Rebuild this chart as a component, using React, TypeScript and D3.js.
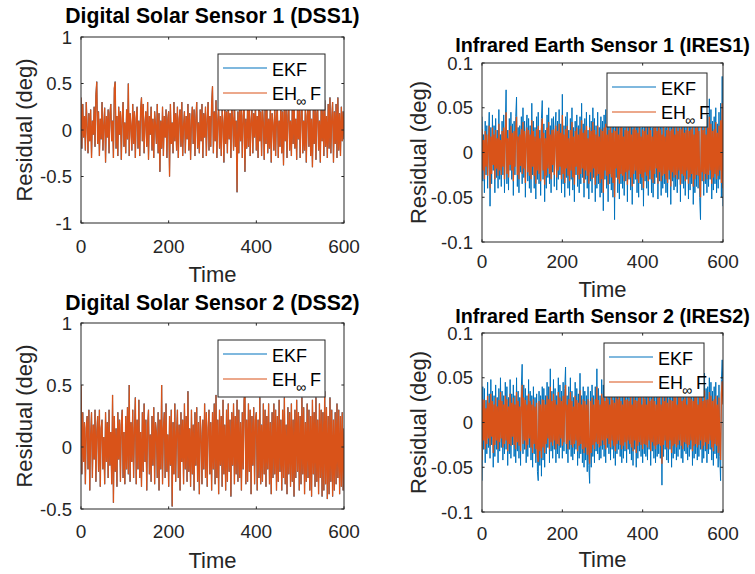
import React from "react";
import * as d3 from "d3";

// ---------- data ----------
const xTicks = [0, 200, 400, 600];
const dssYTicks1 = [-1, -0.5, 0, 0.5, 1];
const dssYTicks2 = [-0.5, 0, 0.5, 1];
const iresYTicks = [-0.1, -0.05, 0, 0.05, 0.1];
const seriesNames = ["EKF", "EH∞F"];

// sample times (every 2 s, 0..600)
const time = d3.range(0, 601, 2);

const dss1EHF = [
  0.35, -0.20, 0.28, -0.08, 0.15, -0.22, 0.30, 0.05, -0.25, 0.18,
  -0.12, 0.22, -0.30, 0.10, -0.05, 0.25, -0.18, 0.38, 0.52, -0.15,
  0.20, -0.28, 0.12, -0.10, 0.30, -0.22, 0.05, 0.24, -0.35, 0.15,
  -0.08, 0.22, -0.25, 0.18, 0.28, -0.12, 0.10, -0.30, 0.45, 0.52,
  -0.20, 0.15, -0.28, 0.25, -0.05, 0.20, -0.32, 0.12, 0.30, -0.18,
  0.08, -0.25, 0.22, -0.10, 0.50, -0.28, 0.18, 0.05, -0.22, 0.28,
  -0.15, 0.20, -0.30, 0.12, 0.25, -0.20, 0.10, -0.28, 0.22, 0.35,
  -0.12, 0.28, -0.25, 0.08, 0.20, -0.18, 0.30, -0.32, 0.15, -0.05,
  0.25, -0.22, 0.12, -0.30, 0.20, 0.05, -0.15, 0.28, -0.25, 0.18,
  -0.45, 0.10, -0.20, 0.25, -0.28, 0.15, -0.08, 0.22, -0.30, 0.12,
  0.20, -0.50, 0.28, -0.15, 0.08, -0.25, 0.30, -0.12, 0.18, -0.22,
  0.25, -0.30, 0.12, 0.22, -0.18, 0.30, -0.28, 0.05, 0.20, -0.25,
  0.15, -0.10, 0.28, -0.22, 0.18, -0.32, 0.10, 0.25, -0.15, 0.22,
  -0.28, 0.12, 0.30, -0.20, 0.08, -0.25, 0.22, -0.12, 0.28, -0.30,
  0.18, -0.08, 0.25, -0.28, 0.12, 0.30, -0.22, 0.15, -0.18, 0.28,
  0.47, -0.25, 0.20, -0.12, 0.32, -0.30, 0.10, 0.25, -0.20, 0.15,
  -0.28, 0.22, 0.08, -0.35, 0.28, -0.15, 0.20, -0.25, 0.30, -0.10,
  0.18, -0.30, 0.25, 0.12, -0.22, 0.35, -0.18, 0.10, -0.67, 0.20,
  -0.25, 0.28, -0.12, 0.22, -0.30, 0.15, 0.30, -0.45, 0.12, -0.20,
  0.25, -0.18, 0.32, -0.28, 0.10, 0.22, -0.25, 0.18, -0.08, 0.28,
  -0.22, 0.15, -0.30, 0.35, -0.12, 0.20, -0.28, 0.25, 0.08, -0.32,
  0.22, -0.15, 0.30, -0.25, 0.12, -0.20, 0.28, -0.35, 0.18, 0.05,
  -0.22, 0.30, -0.28, 0.15, 0.25, -0.30, 0.10, -0.18, 0.32, -0.25,
  0.20, -0.38, 0.28, -0.12, 0.22, -0.30, 0.15, 0.30, -0.22, 0.10,
  -0.28, 0.25, -0.15, 0.35, -0.20, 0.12, -0.32, 0.28, -0.10, 0.22,
  -0.30, 0.18, 0.35, -0.25, 0.10, -0.22, 0.30, -0.35, 0.15, 0.25,
  -0.18, 0.30, -0.28, 0.12, -0.40, 0.22, -0.15, 0.28, -0.32, 0.18,
  0.25, -0.22, 0.10, -0.35, 0.30, -0.12, 0.22, -0.28, 0.32, -0.18,
  0.15, -0.30, 0.28, -0.20, 0.35, -0.25, 0.12, 0.30, -0.35, 0.20,
  -0.15, 0.28, -0.30, 0.35, -0.22, 0.18, -0.28, 0.25, -0.12, 0.20,
  -0.10,
];
// at this scale the EKF curve is hidden under the EH∞F curve
const dss1EKF = dss1EHF;

const dss2EHF = [
  0.50, -0.22, 0.28, -0.12, 0.20, -0.30, 0.15, 0.25, -0.18, 0.30,
  -0.35, 0.10, 0.28, -0.25, 0.18, -0.10, 0.30, -0.28, 0.12, 0.25,
  -0.20, 0.30, -0.32, 0.15, 0.22, -0.18, 0.08, -0.30, 0.28, -0.12,
  0.20, -0.25, 0.30, -0.15, 0.12, -0.30, 0.42, -0.45, 0.25, -0.20,
  0.15, -0.32, 0.28, -0.10, 0.22, -0.28, 0.18, 0.30, -0.25, 0.12,
  -0.30, 0.25, -0.18, 0.32, -0.22, 0.50, -0.28, 0.20, -0.12, 0.30,
  -0.25, 0.15, 0.40, -0.30, 0.22, -0.18, 0.38, -0.25, 0.12, -0.32,
  0.28, -0.20, 0.35, -0.12, 0.22, -0.35, 0.18, 0.30, -0.22, 0.10,
  -0.28, 0.25, -0.15, 0.32, -0.30, 0.20, 0.12, -0.25, 0.28, -0.35,
  0.22, -0.18, 0.50, -0.30, 0.15, 0.28, -0.25, 0.35, -0.20, 0.10,
  -0.32, 0.25, -0.15, 0.30, -0.48, 0.20, -0.22, 0.35, -0.28, 0.12,
  0.30, -0.25, 0.18, -0.35, 0.28, -0.12, 0.22, -0.30, 0.35, -0.18,
  0.25, -0.28, 0.45, -0.20, 0.15, -0.32, 0.30, -0.22, 0.18, -0.35,
  0.28, -0.15, 0.32, -0.28, 0.20, -0.38, 0.25, 0.10, -0.30, 0.22,
  -0.18, 0.35, -0.25, 0.28, -0.32, 0.15, 0.30, -0.22, 0.20, -0.35,
  0.28, -0.18, 0.35, -0.30, 0.42, -0.25, 0.22, -0.38, 0.30, -0.15,
  0.25, -0.32, 0.38, -0.22, 0.18, -0.35, 0.30, -0.28, 0.35, -0.20,
  0.22, -0.40, 0.28, -0.15, 0.35, -0.30, 0.25, -0.22, 0.38, -0.28,
  0.30, -0.25, 0.20, -0.35, 0.28, -0.18, 0.38, 0.45, -0.30, 0.22,
  -0.28, 0.35, -0.20, 0.30, -0.38, 0.25, -0.15, 0.32, -0.30, 0.22,
  0.28, -0.35, 0.22, -0.25, 0.40, -0.30, 0.18, -0.28, 0.35, -0.22,
  0.30, -0.32, 0.25, -0.18, 0.35, -0.30, 0.20, -0.38, 0.28, -0.25,
  0.35, -0.22, 0.30, -0.35, 0.25, -0.28, 0.38, -0.20, 0.22, -0.35,
  0.30, -0.25, 0.40, -0.30, 0.18, -0.38, 0.32, -0.22, 0.28, -0.32,
  0.35, -0.28, 0.22, -0.40, 0.30, -0.25, 0.38, -0.20, 0.28, -0.35,
  0.25, -0.30, 0.40, -0.22, 0.32, -0.38, 0.20, -0.28, 0.35, -0.25,
  0.30, -0.35, 0.25, -0.40, 0.38, -0.22, 0.28, -0.32, 0.40, -0.28,
  0.22, -0.38, 0.35, -0.25, 0.30, -0.40, 0.28, -0.35, 0.45, -0.30,
  0.32, -0.42, 0.25, -0.38, 0.40, -0.28, 0.30, -0.40, 0.22, -0.35,
  0.28, -0.30, 0.35, -0.25, 0.30, -0.38, 0.25, -0.32, 0.28, -0.35,
  0.15,
];
const dss2EKF = dss2EHF;

const ires1EKF = [
  0.040, -0.032, 0.020, -0.045, 0.035, -0.025, 0.030, -0.040, 0.015, 0.045,
  -0.060, 0.028, -0.035, 0.042, -0.020, 0.030, -0.045, 0.038, -0.028, 0.025,
  -0.040, 0.048, -0.030, 0.020, -0.038, 0.035, -0.025, 0.042, -0.045, 0.030,
  0.070, -0.035, 0.025, -0.042, 0.038, -0.020, 0.045, -0.030, 0.032, -0.048,
  0.035, -0.025, 0.040, 0.062, -0.038, 0.028, -0.045, 0.030, -0.022, 0.040,
  -0.035, 0.050, -0.028, 0.035, -0.050, 0.025, 0.042, -0.032, 0.038, -0.040,
  0.030, -0.045, 0.055, -0.025, 0.035, -0.040, 0.028, -0.052, 0.040, -0.030,
  0.045, -0.035, 0.025, -0.048, 0.038, 0.058, -0.030, 0.032, -0.055, 0.025,
  -0.040, 0.042, -0.028, 0.050, -0.035, 0.030, -0.045, 0.038, -0.022, 0.040,
  -0.038, 0.028, 0.045, -0.042, 0.035, -0.030, 0.048, -0.025, 0.032, -0.045,
  0.065, -0.035, 0.030, -0.050, 0.040, -0.028, 0.045, -0.040, 0.025, -0.048,
  0.038, -0.030, 0.050, -0.042, 0.028, -0.055, 0.035, -0.025, 0.042, -0.038,
  0.030, -0.045, 0.040, -0.035, 0.055, -0.028, 0.032, -0.050, 0.038, -0.030,
  0.045, -0.040, 0.025, -0.052, 0.042, -0.032, 0.035, -0.045, 0.050, -0.028,
  0.038, -0.055, 0.030, -0.040, 0.045, -0.035, 0.028, -0.050, 0.040, -0.045,
  0.035, -0.065, 0.042, -0.030, 0.048, -0.040, 0.030, -0.055, 0.038, -0.035,
  0.045, -0.042, 0.032, -0.050, 0.040, -0.075, 0.035, -0.028, 0.048, -0.045,
  0.030, -0.052, 0.042, -0.035, 0.055, -0.040, 0.028, -0.048, 0.038, -0.032,
  0.045, -0.055, 0.035, -0.030, 0.050, -0.042, 0.030, -0.058, 0.040, -0.035,
  0.048, -0.030, 0.038, -0.045, 0.032, -0.050, 0.055, -0.035, 0.028, -0.042,
  0.040, -0.060, 0.035, -0.032, 0.045, -0.040, 0.030, -0.048, 0.050, -0.030,
  0.038, -0.045, 0.028, -0.050, 0.042, -0.035, 0.048, -0.028, 0.035, -0.052,
  0.045, -0.032, 0.040, -0.048, 0.030, -0.040, 0.055, -0.035, 0.028, -0.045,
  0.038, -0.050, 0.045, -0.030, 0.035, -0.058, 0.040, -0.032, 0.048, -0.042,
  0.030, -0.038, 0.058, -0.045, 0.035, -0.030, 0.042, -0.055, 0.040, -0.035,
  0.050, -0.040, 0.032, -0.048, 0.038, -0.030, 0.045, -0.052, 0.035, -0.042,
  0.040, -0.035, 0.048, -0.058, 0.030, -0.045, 0.042, -0.038, 0.050, -0.040,
  0.035, -0.050, -0.075, 0.045, -0.032, 0.038, -0.048, 0.055, -0.035, 0.030,
  -0.045, 0.042, -0.038, 0.060, -0.030, 0.048, -0.052, 0.035, -0.042, 0.040,
  -0.035, 0.050, -0.045, 0.032, -0.040, 0.045, -0.030, 0.055, -0.050, 0.085,
  -0.060,
];

const ires1EHF = [
  0.026, -0.020, 0.014, -0.030, 0.024, -0.016, 0.020, -0.026, 0.010, 0.030,
  -0.040, 0.018, -0.024, 0.028, -0.014, 0.020, -0.030, 0.025, -0.018, 0.016,
  -0.026, 0.032, -0.020, 0.014, -0.025, 0.024, -0.016, 0.028, -0.030, 0.020,
  0.045, -0.024, 0.016, -0.028, 0.025, -0.014, 0.030, -0.020, 0.022, -0.032,
  0.024, -0.016, 0.026, 0.040, -0.025, 0.018, -0.030, 0.020, -0.015, 0.026,
  -0.024, 0.034, -0.018, 0.024, -0.034, 0.016, 0.028, -0.022, 0.025, -0.026,
  0.020, -0.030, 0.036, -0.016, 0.024, -0.026, 0.018, -0.035, 0.026, -0.020,
  0.030, -0.024, 0.016, -0.032, 0.025, 0.038, -0.020, 0.022, -0.036, 0.016,
  -0.026, 0.028, -0.018, 0.034, -0.024, 0.020, -0.030, 0.025, -0.014, 0.026,
  -0.025, 0.018, 0.030, -0.028, 0.024, -0.020, 0.032, -0.016, 0.022, -0.030,
  0.042, -0.024, 0.020, -0.034, 0.026, -0.018, 0.030, -0.026, 0.016, -0.032,
  0.025, -0.020, 0.034, -0.028, 0.018, -0.036, 0.024, -0.016, 0.028, -0.025,
  0.020, -0.030, 0.026, -0.024, 0.036, -0.018, 0.022, -0.034, 0.025, -0.020,
  0.030, -0.026, 0.016, -0.035, 0.028, -0.022, 0.024, -0.030, 0.034, -0.018,
  0.025, -0.036, 0.020, -0.026, 0.030, -0.024, 0.018, -0.034, 0.026, -0.030,
  0.024, -0.045, 0.028, -0.020, 0.032, -0.026, 0.020, -0.036, 0.025, -0.024,
  0.030, -0.028, 0.022, -0.034, 0.026, -0.050, 0.024, -0.018, 0.032, -0.030,
  0.020, -0.035, 0.028, -0.024, 0.036, -0.026, 0.018, -0.032, 0.025, -0.022,
  0.030, -0.036, 0.024, -0.020, 0.034, -0.028, 0.020, -0.038, 0.026, -0.024,
  0.032, -0.020, 0.025, -0.030, 0.022, -0.034, 0.036, -0.024, 0.018, -0.028,
  0.026, -0.040, 0.024, -0.022, 0.030, -0.026, 0.020, -0.032, 0.034, -0.020,
  0.025, -0.030, 0.018, -0.034, 0.028, -0.024, 0.032, -0.018, 0.024, -0.035,
  0.030, -0.022, 0.026, -0.032, 0.020, -0.026, 0.036, -0.024, 0.018, -0.030,
  0.025, -0.034, 0.030, -0.020, 0.024, -0.038, 0.026, -0.022, 0.032, -0.028,
  0.020, -0.025, 0.038, -0.030, 0.024, -0.020, 0.028, -0.036, 0.026, -0.024,
  0.034, -0.026, 0.022, -0.032, 0.025, -0.020, 0.030, -0.035, 0.024, -0.028,
  0.026, -0.024, 0.032, -0.038, 0.020, -0.030, 0.028, -0.025, 0.034, -0.026,
  0.024, -0.034, -0.050, 0.030, -0.022, 0.025, -0.032, 0.036, -0.024, 0.020,
  -0.030, 0.028, -0.025, 0.040, -0.020, 0.032, -0.035, 0.024, -0.028, 0.026,
  -0.024, 0.034, -0.030, 0.022, -0.026, 0.030, -0.020, 0.036, -0.034, 0.055,
  -0.040,
];

const ires2EKF = [
  -0.065, 0.040, -0.030, 0.038, -0.045, 0.025, -0.035, 0.045, -0.028, 0.032,
  -0.040, 0.048, -0.025, 0.035, -0.050, 0.030, -0.038, 0.042, -0.030, 0.028,
  -0.045, 0.038, -0.032, 0.050, -0.028, 0.035, -0.042, 0.030, -0.035, 0.045,
  -0.030, 0.040, -0.048, 0.028, -0.035, 0.048, -0.040, 0.032, -0.025, 0.042,
  -0.038, 0.030, -0.045, 0.050, -0.032, 0.035, -0.040, 0.028, -0.048, 0.040,
  0.065, -0.035, 0.042, -0.030, 0.038, -0.045, 0.030, -0.038, 0.048, -0.028,
  0.035, -0.042, 0.030, -0.050, 0.040, -0.035, 0.028, -0.045, 0.032, -0.055,
  -0.065, 0.035, -0.048, 0.030, -0.060, 0.040, -0.042, 0.038, -0.050, 0.030,
  -0.035, 0.045, -0.028, 0.040, -0.045, 0.060, -0.032, 0.035, -0.040, 0.048,
  -0.030, 0.038, -0.045, 0.030, -0.035, 0.050, -0.040, 0.042, -0.028, 0.035,
  -0.040, 0.045, -0.032, 0.038, 0.062, -0.035, 0.030, -0.045, 0.040, -0.030,
  0.050, -0.038, 0.035, -0.042, 0.028, -0.035, 0.045, -0.030, 0.038, -0.048,
  0.032, -0.040, 0.055, -0.035, 0.030, -0.045, 0.040, -0.050, 0.035, -0.042,
  0.030, -0.055, 0.040, -0.048, -0.068, 0.035, -0.050, 0.042, -0.038, 0.030,
  -0.045, 0.040, -0.032, 0.060, -0.035, 0.038, -0.042, 0.030, -0.040, 0.048,
  -0.030, 0.042, -0.038, 0.035, -0.045, 0.050, -0.028, 0.040, -0.035, 0.030,
  -0.042, 0.055, -0.030, 0.038, -0.040, 0.032, -0.048, 0.045, -0.035, 0.040,
  -0.030, 0.048, -0.038, 0.035, -0.045, 0.030, -0.040, 0.050, -0.032, 0.038,
  -0.045, 0.040, -0.030, 0.035, -0.035, 0.058, -0.042, 0.030, -0.048, 0.045,
  -0.030, 0.038, -0.050, 0.035, -0.040, 0.042, -0.032, 0.048, -0.038, 0.030,
  -0.045, 0.048, -0.035, 0.040, -0.038, 0.030, -0.042, 0.052, -0.030, 0.035,
  -0.048, 0.040, -0.032, 0.045, -0.040, 0.035, -0.045, 0.030, -0.038, 0.042,
  -0.035, 0.050, -0.040, 0.030, -0.070, 0.045, -0.038, 0.035, -0.030, 0.048,
  -0.042, 0.032, -0.045, 0.040, -0.030, 0.038, -0.050, 0.035, -0.040, 0.045,
  -0.035, 0.050, -0.042, 0.030, -0.038, 0.045, -0.030, 0.055, -0.040, 0.035,
  -0.045, 0.040, -0.032, 0.048, -0.035, 0.030, -0.042, 0.052, -0.038, 0.045,
  -0.030, 0.040, -0.048, 0.035, -0.040, 0.050, -0.035, 0.045, -0.042, 0.030,
  -0.038, 0.048, -0.030, 0.042, -0.045, 0.035, -0.040, 0.055, -0.032, 0.038,
  -0.045, 0.040, -0.035, 0.050, -0.030, 0.045, -0.042, 0.035, -0.048, 0.040,
  -0.035, 0.045, -0.040, 0.030, -0.050, 0.042, -0.038, -0.065, 0.048, 0.070,
  0.030,
];

const ires2EHF = [
  -0.042, 0.026, -0.020, 0.025, -0.030, 0.016, -0.024, 0.030, -0.018, 0.022,
  -0.026, 0.032, -0.016, 0.024, -0.034, 0.020, -0.025, 0.028, -0.020, 0.018,
  -0.030, 0.025, -0.022, 0.034, -0.018, 0.024, -0.028, 0.020, -0.024, 0.030,
  -0.020, 0.026, -0.032, 0.018, -0.024, 0.032, -0.026, 0.022, -0.016, 0.028,
  -0.025, 0.020, -0.030, 0.034, -0.022, 0.024, -0.026, 0.018, -0.032, 0.026,
  0.042, -0.024, 0.028, -0.020, 0.025, -0.030, 0.020, -0.025, 0.032, -0.018,
  0.024, -0.028, 0.020, -0.034, 0.026, -0.024, 0.018, -0.030, 0.022, -0.038,
  -0.044, 0.024, -0.032, 0.020, -0.040, 0.026, -0.028, 0.025, -0.034, 0.020,
  -0.024, 0.030, -0.018, 0.026, -0.030, 0.040, -0.022, 0.024, -0.026, 0.032,
  -0.020, 0.025, -0.030, 0.020, -0.024, 0.034, -0.026, 0.028, -0.018, 0.024,
  -0.026, 0.030, -0.022, 0.025, 0.042, -0.024, 0.020, -0.030, 0.026, -0.020,
  0.034, -0.025, 0.024, -0.028, 0.018, -0.024, 0.030, -0.020, 0.025, -0.032,
  0.022, -0.026, 0.036, -0.024, 0.020, -0.030, 0.026, -0.034, 0.024, -0.028,
  0.020, -0.036, 0.026, -0.032, -0.046, 0.024, -0.034, 0.028, -0.025, 0.020,
  -0.030, 0.026, -0.022, 0.040, -0.024, 0.025, -0.028, 0.020, -0.026, 0.032,
  -0.020, 0.028, -0.025, 0.024, -0.030, 0.034, -0.018, 0.026, -0.024, 0.020,
  -0.028, 0.036, -0.020, 0.025, -0.026, 0.022, -0.032, 0.030, -0.024, 0.026,
  -0.020, 0.032, -0.025, 0.024, -0.030, 0.020, -0.026, 0.034, -0.022, 0.025,
  -0.030, 0.026, -0.020, 0.024, -0.024, 0.038, -0.028, 0.020, -0.032, 0.030,
  -0.020, 0.025, -0.034, 0.024, -0.026, 0.028, -0.022, 0.032, -0.025, 0.020,
  -0.030, 0.032, -0.024, 0.026, -0.025, 0.020, -0.028, 0.035, -0.020, 0.024,
  -0.032, 0.026, -0.022, 0.030, -0.026, 0.024, -0.030, 0.020, -0.025, 0.028,
  -0.024, 0.034, -0.026, 0.020, -0.046, 0.030, -0.025, 0.024, -0.020, 0.032,
  -0.028, 0.022, -0.030, 0.026, -0.020, 0.025, -0.034, 0.024, -0.026, 0.030,
  -0.024, 0.034, -0.028, 0.020, -0.025, 0.030, -0.020, 0.036, -0.026, 0.024,
  -0.030, 0.026, -0.022, 0.032, -0.024, 0.020, -0.028, 0.035, -0.025, 0.030,
  -0.020, 0.026, -0.032, 0.024, -0.026, 0.034, -0.024, 0.030, -0.028, 0.020,
  -0.025, 0.032, -0.020, 0.028, -0.030, 0.024, -0.026, 0.036, -0.022, 0.025,
  -0.030, 0.026, -0.024, 0.034, -0.020, 0.030, -0.028, 0.024, -0.032, 0.026,
  -0.024, 0.030, -0.026, 0.020, -0.034, 0.028, -0.025, -0.042, 0.032, 0.046,
  0.020,
];

// ---------- styling ----------
const BLUE = "#0072BD";
const ORANGE = "#D95319";
const AX = "#262626";
const FONT = "'Liberation Sans', Arial, Helvetica, sans-serif";

type Panel = {
  id: string;
  title: string;
  L: number; R: number; T: number; B: number;
  yDomain: [number, number];
  yTicks: number[];
  ekf: number[];
  ehf: number[];
  titleY: number;
  titleSize: number;
  xLabY: number;
  timeY: number;
  yLabX: number;
  leg: { x: number; y: number; w: number; h: number };
};

const panels: Panel[] = [
  {
    id: "p1", title: "Digital Solar Sensor 1 (DSS1)",
    L: 81, R: 344, T: 37, B: 223, yDomain: [-1, 1], yTicks: dssYTicks1,
    ekf: dss1EKF, ehf: dss1EHF,
    titleY: 23, titleSize: 21.2, xLabY: 253, timeY: 282, yLabX: 32,
    leg: { x: 218, y: 54, w: 107, h: 56 },
  },
  {
    id: "p2", title: "Infrared Earth Sensor 1 (IRES1)",
    L: 482, R: 723, T: 63, B: 242, yDomain: [-0.1, 0.1], yTicks: iresYTicks,
    ekf: ires1EKF, ehf: ires1EHF,
    titleY: 52, titleSize: 19.8, xLabY: 268, timeY: 297, yLabX: 426,
    leg: { x: 607, y: 73, w: 100, h: 54 },
  },
  {
    id: "p3", title: "Digital Solar Sensor 2 (DSS2)",
    L: 81, R: 344, T: 323, B: 509, yDomain: [-0.5, 1], yTicks: dssYTicks2,
    ekf: dss2EKF, ehf: dss2EHF,
    titleY: 310, titleSize: 21.2, xLabY: 538, timeY: 568, yLabX: 32,
    leg: { x: 218, y: 340, w: 107, h: 57 },
  },
  {
    id: "p4", title: "Infrared Earth Sensor 2 (IRES2)",
    L: 482, R: 723, T: 333, B: 512, yDomain: [-0.1, 0.1], yTicks: iresYTicks,
    ekf: ires2EKF, ehf: ires2EHF,
    titleY: 323, titleSize: 19.8, xLabY: 540, timeY: 567, yLabX: 426,
    leg: { x: 604, y: 343, w: 100, h: 54 },
  },
];

function PanelView({ p }: { p: Panel }) {
  const x = d3.scaleLinear().domain([0, 600]).range([p.L, p.R]);
  const y = d3.scaleLinear().domain(p.yDomain).range([p.B, p.T]);
  const line = d3
    .line<number>()
    .x((_, i) => x(time[i]))
    .y((d) => y(d));
  const tl = 2.6;
  const cx = (p.L + p.R) / 2;
  const cy = (p.T + p.B) / 2;
  const lg = p.leg;
  const tx = lg.x + 54;
  return (
    <g>
      <defs>
        <clipPath id={`clip-${p.id}`}>
          <rect x={p.L} y={p.T} width={p.R - p.L} height={p.B - p.T} />
        </clipPath>
      </defs>
      <rect x={p.L} y={p.T} width={p.R - p.L} height={p.B - p.T} fill="#fff" />
      <g clipPath={`url(#clip-${p.id})`}>
        <path d={line(p.ekf) || ""} fill="none" stroke={BLUE} strokeWidth={1} strokeLinejoin="bevel" />
        <path d={line(p.ehf) || ""} fill="none" stroke={ORANGE} strokeWidth={1.3} strokeLinejoin="bevel" />
      </g>
      {/* axes box */}
      <rect x={p.L} y={p.T} width={p.R - p.L} height={p.B - p.T} fill="none" stroke={AX} strokeWidth={1} />
      {xTicks.map((t) => (
        <g key={`xt${t}`}>
          <line x1={x(t)} x2={x(t)} y1={p.B} y2={p.B - tl} stroke={AX} strokeWidth={1} />
          <line x1={x(t)} x2={x(t)} y1={p.T} y2={p.T + tl} stroke={AX} strokeWidth={1} />
          <text x={x(t)} y={p.xLabY} textAnchor="middle" fontSize={19} fill={AX} fontFamily={FONT}>
            {String(t)}
          </text>
        </g>
      ))}
      {p.yTicks.map((t) => (
        <g key={`yt${t}`}>
          <line x1={p.L} x2={p.L + tl} y1={y(t)} y2={y(t)} stroke={AX} strokeWidth={1} />
          <line x1={p.R} x2={p.R - tl} y1={y(t)} y2={y(t)} stroke={AX} strokeWidth={1} />
          <text x={p.L - 9} y={y(t) + 6.5} textAnchor="end" fontSize={18.5} fill={AX} fontFamily={FONT}>
            {String(t)}
          </text>
        </g>
      ))}
      <text
        x={cx}
        y={p.titleY}
        textAnchor="middle"
        fontSize={p.titleSize}
        fontWeight="bold"
        fill="#000"
        fontFamily={FONT}
      >
        {p.title}
      </text>
      <text x={cx} y={p.timeY} textAnchor="middle" fontSize={22} fill={AX} fontFamily={FONT}>
        Time
      </text>
      <text
        transform={`translate(${p.yLabX},${cy}) rotate(-90)`}
        textAnchor="middle"
        fontSize={22}
        fill={AX}
        fontFamily={FONT}
      >
        Residual (deg)
      </text>
      {/* legend */}
      <rect x={lg.x} y={lg.y} width={lg.w} height={lg.h} fill="#fff" stroke={AX} strokeWidth={1} />
      <line x1={lg.x + 5} x2={lg.x + 49} y1={lg.y + 14} y2={lg.y + 14} stroke={BLUE} strokeWidth={1.2} />
      <line x1={lg.x + 5} x2={lg.x + 49} y1={lg.y + 39} y2={lg.y + 39} stroke={ORANGE} strokeWidth={1.2} />
      <text x={tx} y={lg.y + 21.5} fontSize={18} fill="#000" fontFamily={FONT}>
        {seriesNames[0]}
      </text>
      <text x={tx} y={lg.y + 46} fontSize={18} fill="#000" fontFamily={FONT}>
        {seriesNames[1].slice(0, 2)}
      </text>
      <text x={tx + 24} y={lg.y + 52} fontSize={14} fill="#000" fontFamily={FONT}>
        {seriesNames[1].slice(2, 3)}
      </text>
      <text x={tx + 38} y={lg.y + 46} fontSize={18} fill="#000" fontFamily={FONT}>
        {seriesNames[1].slice(3)}
      </text>
    </g>
  );
}

export default function App() {
  return (
    <svg
      width={755}
      height={574}
      viewBox="0 0 755 574"
      style={{ position: "absolute", left: 0, top: 0, background: "#fff" }}
    >
      <rect x={0} y={0} width={755} height={574} fill="#fff" />
      {panels.map((p) => (
        <PanelView key={p.id} p={p} />
      ))}
    </svg>
  );
}
